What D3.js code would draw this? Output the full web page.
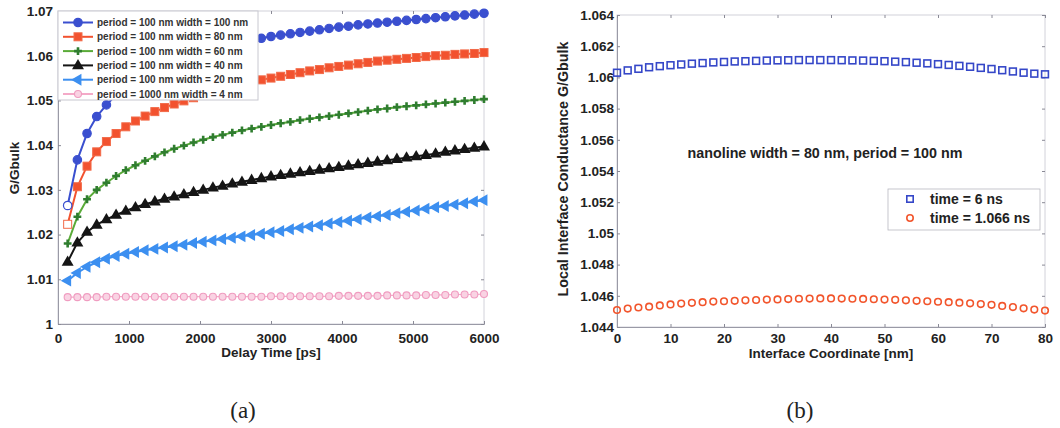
<!DOCTYPE html>
<html><head><meta charset="utf-8">
<script src="https://cdn.jsdelivr.net/npm/d3@7"></script>
<style>
html,body{margin:0;padding:0;background:#fff;}
</style></head>
<body>
<svg id="c" width="1060" height="428" font-family="Liberation Sans, Arial, sans-serif"></svg>
<script>
// ---------- Panel (a) data ----------
const timesA = [136,273,409,545,682,818,955,1091,1227,1364,1500,1636,1773,1909,2045,2182,2318,2455,2591,2727,2864,3000,
  3136,3273,3409,3545,3682,3818,3955,4091,4227,4364,4500,4636,4773,4909,5045,5182,5318,5455,5591,5727,5864,6000];
const w100 = [1.0265,1.0367,1.0426,1.0464,1.0490,1.0512,1.0530,1.0545,1.0558,1.0569,1.0579,1.0588,1.0596,1.0603,1.0609,1.0615,1.0620,1.0625,1.0630,1.0635,1.0639,1.0643,
  1.0646,1.0649,1.0652,1.0655,1.0658,1.0661,1.0664,1.0666,1.0669,1.0671,1.0673,1.0675,1.0677,1.0679,1.0681,1.0683,1.0685,1.0687,1.0689,1.0691,1.0693,1.0695];
const w80 = [1.0223,1.0307,1.0353,1.0385,1.0408,1.0426,1.0441,1.0454,1.0465,1.0475,1.0484,1.0492,1.0499,1.0506,1.0513,1.0519,1.0525,1.0531,1.0536,1.0541,1.0546,1.0550,
  1.0554,1.0558,1.0562,1.0566,1.0569,1.0573,1.0576,1.0579,1.0582,1.0585,1.0588,1.0590,1.0592,1.0594,1.0596,1.0598,1.0600,1.0601,1.0603,1.0604,1.0605,1.0607];
const w60 = [1.0180,1.0240,1.0279,1.0300,1.0316,1.0331,1.0344,1.0355,1.0365,1.0375,1.0384,1.0392,1.0399,1.0406,1.0412,1.0418,1.0423,1.0428,1.0433,1.0437,1.0441,1.0445,
  1.0449,1.0452,1.0456,1.0459,1.0462,1.0465,1.0468,1.0471,1.0474,1.0477,1.0480,1.0482,1.0485,1.0487,1.0489,1.0491,1.0493,1.0495,1.0497,1.0499,1.0501,1.0503];
const w40 = [1.0139,1.0182,1.0206,1.0222,1.0234,1.0244,1.0253,1.0261,1.0268,1.0274,1.0280,1.0285,1.0290,1.0295,1.0300,1.0305,1.0309,1.0314,1.0318,1.0322,1.0326,1.0330,
  1.0333,1.0336,1.0339,1.0342,1.0345,1.0348,1.0351,1.0354,1.0357,1.0360,1.0363,1.0366,1.0369,1.0372,1.0375,1.0378,1.0381,1.0385,1.0388,1.0391,1.0394,1.0397];
const w20 = [1.0097,1.0114,1.0128,1.0138,1.0146,1.0152,1.0157,1.0161,1.0165,1.0168,1.0171,1.0174,1.0177,1.0181,1.0184,1.0187,1.0190,1.0193,1.0196,1.0199,1.0202,1.0205,
  1.0208,1.0212,1.0215,1.0218,1.0221,1.0225,1.0228,1.0231,1.0234,1.0238,1.0241,1.0244,1.0248,1.0251,1.0254,1.0258,1.0261,1.0264,1.0267,1.0270,1.0274,1.0277];
const w4 = [1.0060,1.0060,1.0060,1.0060,1.0061,1.0061,1.0061,1.0061,1.0061,1.0061,1.0061,1.0061,1.0061,1.0061,1.0061,1.0061,1.0061,1.0061,1.0061,1.0061,1.0061,1.0062,
  1.0062,1.0062,1.0062,1.0062,1.0062,1.0062,1.0063,1.0063,1.0063,1.0063,1.0063,1.0064,1.0064,1.0064,1.0064,1.0065,1.0065,1.0065,1.0066,1.0066,1.0066,1.0067];
const legendA = ["period = 100 nm width = 100 nm","period = 100 nm width = 80 nm","period = 100 nm width = 60 nm",
  "period = 100 nm width = 40 nm","period = 100 nm width = 20 nm","period = 1000 nm width = 4 nm"];
const xTicksA = [0,1000,2000,3000,4000,5000,6000];
const yTicksA = [1,1.01,1.02,1.03,1.04,1.05,1.06,1.07];

// ---------- Panel (b) data ----------
const coordB = [0,2,4,6,8,10,12,14,16,18,20,22,24,26,28,30,32,34,36,38,40,42,44,46,48,50,52,54,56,58,60,62,64,66,68,70,72,74,76,78,80];
const t6ns = [1.06030,1.06045,1.06055,1.06065,1.06072,1.06078,1.06083,1.06088,1.06092,1.06096,1.06099,1.06102,1.06104,1.06106,1.06108,1.06109,1.06110,1.06111,1.06111,1.06111,
  1.06111,1.06110,1.06109,1.06108,1.06106,1.06104,1.06101,1.06098,1.06094,1.06090,1.06085,1.06080,1.06074,1.06068,1.06061,1.06054,1.06046,1.06038,1.06030,1.06024,1.06020];
const t1066 = [1.04509,1.04518,1.04525,1.04530,1.04538,1.04545,1.04550,1.04555,1.04559,1.04563,1.04565,1.04568,1.04571,1.04573,1.04576,1.04577,1.04579,1.04581,1.04582,1.04583,
  1.04583,1.04582,1.04581,1.04580,1.04578,1.04576,1.04574,1.04571,1.04568,1.04565,1.04562,1.04559,1.04556,1.04552,1.04547,1.04542,1.04535,1.04528,1.04520,1.04512,1.04505];
const legendB = ["time = 6 ns","time = 1.066 ns"];
const xTicksB = [0,10,20,30,40,50,60,70,80];
const yTicksB = [1.044,1.046,1.048,1.05,1.052,1.054,1.056,1.058,1.06,1.062,1.064];

const svg = d3.select("#c");
const AX = "#9a9aa6";
const SANS = "Liberation Sans, Arial, sans-serif";

function frame(g, x, y, xt, yt, xfmt, yfmt, xpad, ypad){
  const [x0,x1] = x.range(), [y0,y1] = y.range();
  g.append("rect").attr("x",x0).attr("y",y1).attr("width",x1-x0).attr("height",y0-y1)
    .attr("fill","none").attr("stroke","#d2d2da").attr("stroke-width",1);
  const ax = g.append("g").attr("transform",`translate(0,${y0})`)
    .call(d3.axisBottom(x).tickValues(xt).tickFormat(xfmt).tickSize(-3).tickPadding(xpad));
  const ay = g.append("g").attr("transform",`translate(${x0},0)`)
    .call(d3.axisLeft(y).tickValues(yt).tickFormat(yfmt).tickSize(-3).tickPadding(ypad));
  g.append("g").attr("transform",`translate(0,${y1})`)
    .call(d3.axisTop(x).tickValues(xt).tickFormat("").tickSize(-3)).call(s=>s.select(".domain").remove());
  g.append("g").attr("transform",`translate(${x1},0)`)
    .call(d3.axisRight(y).tickValues(yt).tickFormat("").tickSize(-3)).call(s=>s.select(".domain").remove());
  g.selectAll(".domain").attr("stroke",AX);
  g.selectAll(".tick line").attr("stroke","#8a8a96");
  [ax,ay].forEach(a=>{
    a.attr("font-family",SANS).attr("font-size",13.5);
    a.selectAll("text").attr("font-weight","bold").attr("fill","#222");
  });
}

// ================= Panel (a) =================
const xA = d3.scaleLinear([0,6000],[58,484]);
const yA = d3.scaleLinear([1,1.07],[324,11]);
const gA = svg.append("g");
frame(gA, xA, yA, xTicksA, yTicksA, d=>String(d), d=>String(+d.toFixed(2)), 9, 5);

const seriesA = [
  {v:w4,  line:"#f4aac8", stroke:"#f09cc0", fill:"#f9d3e3", mk:"pink"},
  {v:w20, line:"#3c8ff0", stroke:"#3c8ff0", fill:"#3c8ff0", mk:"left"},
  {v:w40, line:"#151515", stroke:"#151515", fill:"#151515", mk:"tri"},
  {v:w60, line:"#5aab38", stroke:"#2f7d2f", fill:"#2f7d2f", mk:"plus"},
  {v:w80, line:"#f2522f", stroke:"#f26a48", fill:"#f2522f", mk:"sq"},
  {v:w100,line:"#3a4fcf", stroke:"#3a4fcf", fill:"#3a4fcf", mk:"circ"}
];
const legendOrder = [5,4,3,2,1,0];
const lineGen = d3.line().x(d=>xA(d[0])).y(d=>yA(d[1]));

function marker(g, type, cx, cy, s, first){
  const fill = first ? "#fff" : s.fill;
  if(type==="circ"){
    g.append("circle").attr("cx",cx).attr("cy",cy).attr("r",4.2).attr("fill",fill).attr("stroke",s.stroke).attr("stroke-width",1.2);
  } else if(type==="sq"){
    g.append("rect").attr("x",cx-4).attr("y",cy-4).attr("width",8).attr("height",8).attr("fill",fill).attr("stroke",s.stroke).attr("stroke-width",1);
  } else if(type==="plus"){
    g.append("path").attr("d",d3.symbol(d3.symbolCross,34)()).attr("transform",`translate(${cx},${cy})`).attr("fill",s.fill);
  } else if(type==="tri"){
    g.append("path").attr("d",d3.symbol(d3.symbolTriangle,62)()).attr("transform",`translate(${cx},${cy+0.5})`).attr("fill",s.fill);
  } else if(type==="left"){
    g.append("path").attr("d",d3.symbol(d3.symbolTriangle,62)()).attr("transform",`translate(${cx},${cy}) rotate(-90)`).attr("fill",s.fill);
  } else if(type==="pink"){
    g.append("circle").attr("cx",cx).attr("cy",cy).attr("r",3.5).attr("fill",s.fill).attr("stroke",s.stroke).attr("stroke-width",1.1);
  }
}

const plotA = gA.append("g");
seriesA.forEach(s=>{
  const pts = timesA.map((t,i)=>[t,s.v[i]]);
  plotA.append("path").attr("d",lineGen(pts)).attr("fill","none").attr("stroke",s.line).attr("stroke-width",s.mk==="pink"?1.2:2);
  const mg = plotA.append("g");
  pts.forEach((p,i)=>marker(mg, s.mk, xA(p[0]), yA(p[1]), s, i===0 && (s.mk==="circ"||s.mk==="sq")));
});

// legend (a)
const lgA = gA.append("g");
lgA.append("rect").attr("x",58).attr("y",11).attr("width",200).attr("height",89)
  .attr("fill","#fff").attr("stroke","#c8c8d0").attr("stroke-width",1);
legendOrder.forEach((si,row)=>{
  const s = seriesA[si];
  const yy = 22.5 + row*14.3;
  lgA.append("line").attr("x1",63).attr("x2",93).attr("y1",yy).attr("y2",yy).attr("stroke",s.line).attr("stroke-width",2);
  marker(lgA, s.mk, 78, yy, s, false);
  lgA.append("text").attr("x",97).attr("y",yy).attr("dy","0.35em").attr("font-size",10).attr("font-weight","bold")
    .attr("fill","#333").text(legendA[row]);
});

gA.append("text").attr("x",271).attr("y",357).attr("text-anchor","middle").attr("font-size",13.5)
  .attr("font-weight","bold").attr("fill","#222").text("Delay Time [ps]");
gA.append("text").attr("transform","translate(19,168) rotate(-90)").attr("text-anchor","middle").attr("font-size",13.5)
  .attr("font-weight","bold").attr("fill","#222").text("G/Gbulk");

// ================= Panel (b) =================
const xB = d3.scaleLinear([0,80],[617,1045]);
const yB = d3.scaleLinear([1.044,1.064],[327,15]);
const gB = svg.append("g");
frame(gB, xB, yB, xTicksB, yTicksB, d=>String(d), d=>String(+d.toFixed(3)), 6, 3);

const plotB = gB.append("g");
coordB.forEach((c,i)=>{
  plotB.append("rect").attr("x",xB(c)-3.4).attr("y",yB(t6ns[i])-3.4).attr("width",6.8).attr("height",6.8)
    .attr("fill","none").attr("stroke","#3547c8").attr("stroke-width",1.6);
});
coordB.forEach((c,i)=>{
  plotB.append("circle").attr("cx",xB(c)).attr("cy",yB(t1066[i])).attr("r",3.3)
    .attr("fill","none").attr("stroke","#f2552c").attr("stroke-width",1.6);
});

gB.append("text").attr("x",825).attr("y",153).attr("dy","0.35em").attr("text-anchor","middle").attr("font-size",14.3)
  .attr("font-weight","bold").attr("fill","#222").text("nanoline width = 80 nm, period = 100 nm");

const lgB = gB.append("g");
lgB.append("rect").attr("x",888).attr("y",189).attr("width",152).attr("height",41)
  .attr("fill","#fff").attr("stroke","#b8b8c0").attr("stroke-width",0.8);
lgB.append("rect").attr("x",910-3.2).attr("y",199-3.2).attr("width",6.4).attr("height",6.4)
  .attr("fill","none").attr("stroke","#3547c8").attr("stroke-width",1.6);
lgB.append("circle").attr("cx",910).attr("cy",218).attr("r",3.2).attr("fill","none").attr("stroke","#f2552c").attr("stroke-width",1.6);
[199,218].forEach((yy,i)=>lgB.append("text").attr("x",930).attr("y",yy).attr("dy","0.35em").attr("font-size",14)
  .attr("font-weight","bold").attr("fill","#222").text(legendB[i]));

gB.append("text").attr("x",831).attr("y",358).attr("text-anchor","middle").attr("font-size",13.5)
  .attr("font-weight","bold").attr("fill","#222").text("Interface Coordinate [nm]");
gB.append("text").attr("transform","translate(568,169) rotate(-90)").attr("text-anchor","middle").attr("font-size",14.3)
  .attr("font-weight","bold").attr("fill","#222").text("Local Interface Conductance G/Gbulk");

// sub-figure labels
svg.append("text").attr("x",243).attr("y",410).attr("dy","0.35em").attr("text-anchor","middle")
  .attr("font-family","Liberation Serif, Times New Roman, serif").attr("font-size",23).attr("fill","#222").text("(a)");
svg.append("text").attr("x",800).attr("y",410).attr("dy","0.35em").attr("text-anchor","middle")
  .attr("font-family","Liberation Serif, Times New Roman, serif").attr("font-size",23).attr("fill","#222").text("(b)");
</script>
</body></html>
